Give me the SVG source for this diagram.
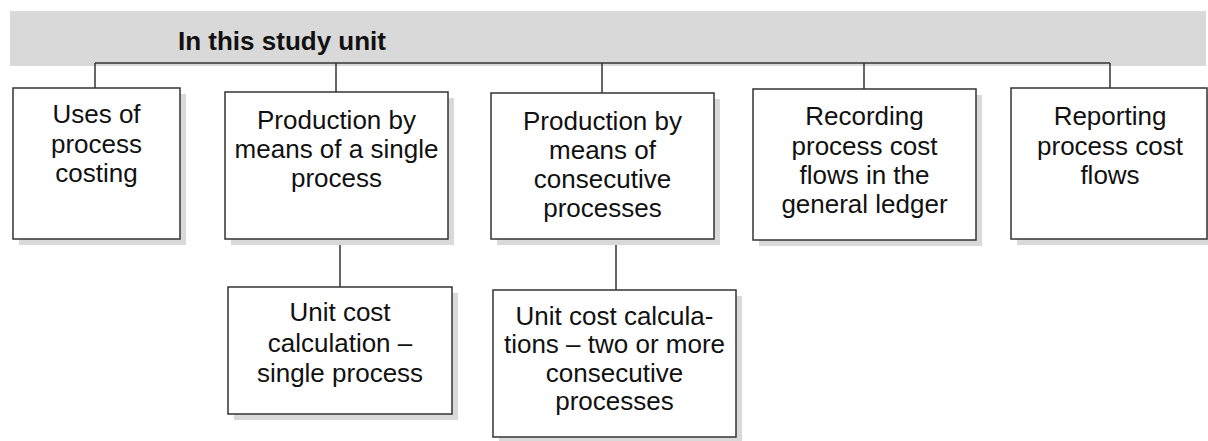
<svg xmlns="http://www.w3.org/2000/svg" width="1208" height="441" viewBox="0 0 1208 441">
<style>
.shadow{fill:#d9d9d9;stroke:none}
.box{fill:#ffffff;stroke:#333333;stroke-width:1.5}
.lbl{font-family:"Liberation Sans",Arial,sans-serif;font-size:26px;fill:#111111;text-anchor:middle}
.title{font-family:"Liberation Sans",Arial,sans-serif;font-size:26px;font-weight:bold;fill:#111111}
.conn{stroke:#333333;stroke-width:1.5;fill:none}
</style>
<rect x="0" y="0" width="1208" height="441" fill="#ffffff"/>
<g id="banner">
<rect x="10" y="11" width="1196" height="55" fill="#d9d9d9"/>
<text class="title" x="178" y="50">In this study unit</text>
</g>
<g id="connectors">
<line class="conn" x1="95" y1="63" x2="1110" y2="63"/>
<line class="conn" x1="95" y1="63" x2="95" y2="88"/>
<line class="conn" x1="336" y1="63" x2="336" y2="92"/>
<line class="conn" x1="602" y1="63" x2="602" y2="93"/>
<line class="conn" x1="864" y1="63" x2="864" y2="89"/>
<line class="conn" x1="1110" y1="63" x2="1110" y2="88"/>
<line class="conn" x1="340" y1="239" x2="340" y2="287"/>
<line class="conn" x1="616" y1="239" x2="616" y2="290"/>
</g>
<g id="node-uses">
<rect class="shadow" x="19" y="94" width="167" height="151"/>
<rect class="box" x="13" y="88" width="167" height="151"/>
<text class="lbl" x="96.5" y="123">Uses of</text>
<text class="lbl" x="96.5" y="153">process</text>
<text class="lbl" x="96.5" y="182">costing</text>
</g>
<g id="node-single">
<rect class="shadow" x="231" y="98" width="223" height="147"/>
<rect class="box" x="225" y="92" width="223" height="147"/>
<text class="lbl" x="336.5" y="129">Production by</text>
<text class="lbl" x="336.5" y="158">means of a single</text>
<text class="lbl" x="336.5" y="187">process</text>
</g>
<g id="node-consecutive">
<rect class="shadow" x="497" y="99" width="223" height="146"/>
<rect class="box" x="491" y="93" width="223" height="146"/>
<text class="lbl" x="602.5" y="130">Production by</text>
<text class="lbl" x="602.5" y="159">means of</text>
<text class="lbl" x="602.5" y="188">consecutive</text>
<text class="lbl" x="602.5" y="217">processes</text>
</g>
<g id="node-recording">
<rect class="shadow" x="759" y="95" width="223" height="151"/>
<rect class="box" x="753" y="89" width="223" height="151"/>
<text class="lbl" x="864.5" y="125">Recording</text>
<text class="lbl" x="864.5" y="155">process cost</text>
<text class="lbl" x="864.5" y="184">flows in the</text>
<text class="lbl" x="864.5" y="213">general ledger</text>
</g>
<g id="node-reporting">
<rect class="shadow" x="1017" y="94" width="196" height="151"/>
<rect class="box" x="1011" y="88" width="196" height="151"/>
<text class="lbl" x="1110" y="125">Reporting</text>
<text class="lbl" x="1110" y="155">process cost</text>
<text class="lbl" x="1110" y="184">flows</text>
</g>
<g id="node-unit-single">
<rect class="shadow" x="234" y="293" width="224" height="127"/>
<rect class="box" x="228" y="287" width="224" height="127"/>
<text class="lbl" x="340" y="321">Unit cost</text>
<text class="lbl" x="340" y="352">calculation –</text>
<text class="lbl" x="340" y="382">single process</text>
</g>
<g id="node-unit-consecutive">
<rect class="shadow" x="499" y="296" width="243" height="147"/>
<rect class="box" x="493" y="290" width="243" height="147"/>
<text class="lbl" x="614.5" y="325">Unit cost calcula-</text>
<text class="lbl" x="614.5" y="353">tions – two or more</text>
<text class="lbl" x="614.5" y="382">consecutive</text>
<text class="lbl" x="614.5" y="410">processes</text>
</g>
</svg>
